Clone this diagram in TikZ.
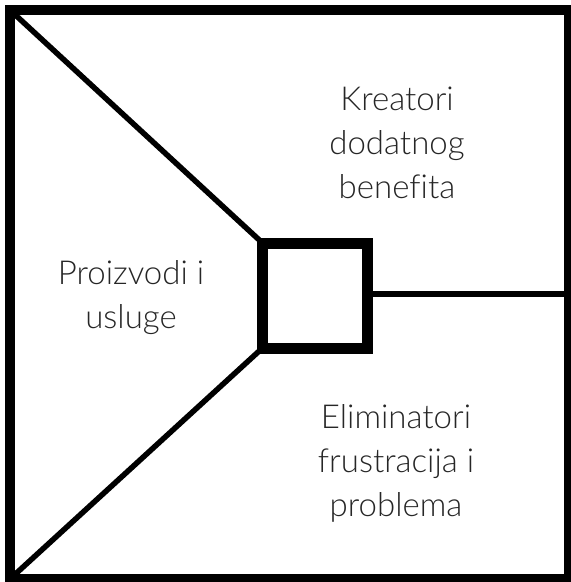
\documentclass[tikz,border=0pt]{standalone}
\usepackage{fontspec}
\setmainfont[Ligatures=NoCommon]{Lato Light}
\begin{document}
\begin{tikzpicture}[x=1pt,y=-1pt,
  frame/.style={draw=black,line width=10pt},
  core/.style={draw=black,line width=11pt,minimum size=105pt,inner sep=0pt,outer sep=0pt},
  ray/.style={draw=black,line width=5.5pt},
  lbl/.style={align=center,text=black!85,font=\fontsize{33}{44}\selectfont,inner sep=0pt}]
\useasboundingbox (0,0) rectangle (571,582);
\coordinate (tl) at (10,10);
\coordinate (br) at (569,579);
\coordinate (bl) at (10,579);
\coordinate (rm) at (569,294);
\node[core,shape=rectangle] (sq) at (315,295.5) {};
\draw[ray] (tl) -- (sq.north west);
\draw[ray] (bl) -- (sq.south west);
\draw[ray] (sq.east |- rm) -- (rm);
\draw[frame] (tl) rectangle (br);
\node[lbl] (kre) at (397,143) {Kreatori\\dodatnog\\benefita};
\node[lbl] (pro) at (131,297.5) {Proizvodi i\\usluge};
\node[lbl] (eli) at (396,463) {Eliminatori\\frustracija i\\problema};
\end{tikzpicture}
\end{document}
